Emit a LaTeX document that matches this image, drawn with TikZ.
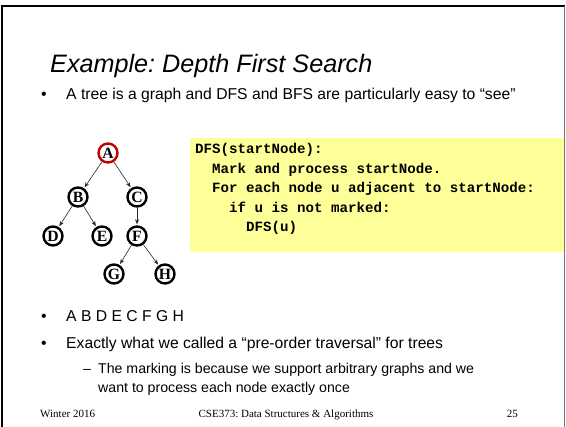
\documentclass[tikz,border=0pt]{standalone}
\usepackage{fontspec}
\setmainfont{Liberation Sans}
\newfontfamily\serifface{Liberation Serif}
\newfontfamily\monoface{Liberation Mono}
\usetikzlibrary{arrows.meta}
\definecolor{notebg}{RGB}{255,255,153}
\definecolor{markred}{RGB}{192,0,0}
\begin{document}
\frenchspacing
\begin{tikzpicture}[x=1pt,y=-1pt,
  vert/.style={circle,draw,line width=2.4pt,minimum size=19pt,inner sep=0pt,
    font=\serifface\bfseries\fontsize{15.7}{16}\selectfont},
  edge/.style={-{Stealth[length=5pt,width=4pt]},line width=0.6pt,draw=black!85,shorten >=1pt},
  titletext/.style={anchor=base west,inner sep=0pt,font=\itshape\fontsize{25.2}{30}\selectfont},
  body/.style={anchor=base west,inner sep=0pt,font=\fontsize{15.7}{18}\selectfont},
  sub/.style={anchor=base west,inner sep=0pt,font=\fontsize{14.15}{17}\selectfont},
  code/.style={anchor=base west,inner sep=0pt,font=\monoface\bfseries\fontsize{14.15}{17}\selectfont},
  foot/.style={inner sep=0pt,font=\serifface\fontsize{11}{13}\selectfont}]

\useasboundingbox (0,0) rectangle (566,427);

% slide frame
\draw[line width=2pt] (2,427) -- (2,6) -- (565,6);
\draw[line width=1pt,black!55] (564.5,6) -- (564.5,427);

% title and first bullet
\node[titletext] (title) at (50,73) {Example: Depth First Search};
\node[body] (dot1) at (41,100) {\textbullet};
\node[body] (b1) at (66,100) {A tree is a graph and DFS and BFS are particularly easy to “see”};

% pseudocode box
\fill[notebg] (190,138) rectangle (564,252);
\node[code] (c1) at (195,154) {DFS(startNode):};
\node[code] (c2) at (212,173.5) {Mark and process startNode.};
\node[code] (c3) at (212,193) {For each node u adjacent to startNode:};
\node[code] (c4) at (229,212.5) {if u is not marked:};
\node[code] (c5) at (246,232) {DFS(u)};

% tree
\node[vert,draw=markred] (A) at (108,153) {A};
\node[vert] (B) at (78,197) {B};
\node[vert] (C) at (137,197) {C};
\node[vert] (D) at (53,236) {D};
\node[vert] (E) at (102,236) {E};
\node[vert] (F) at (137,236) {F};
\node[vert] (G) at (114,274) {G};
\node[vert] (H) at (165,274) {H};
\draw[edge] (A) -- (B);
\draw[edge] (A) -- (C);
\draw[edge] (B) -- (D);
\draw[edge] (B) -- (E);
\draw[edge] (C) -- (F);
\draw[edge] (F) -- (G);
\draw[edge] (F) -- (H);

% lower bullets
\node[body] (dot2) at (41,322) {\textbullet};
\node[body] (b2) at (66,322) {A B D E C F G H};
\node[body] (dot3) at (41,349) {\textbullet};
\node[body] (b3) at (66,349) {Exactly what we called a “pre-order traversal” for trees};
\node[sub] (dash1) at (83,374) {–};
\node[sub] (s1) at (98,374) {The marking is because we support arbitrary graphs and we};
\node[sub] (s2) at (98,393) {want to process each node exactly once};

% footer
\node[foot,anchor=base west] (f1) at (40,418) {Winter 2016};
\node[foot,anchor=base] (f2) at (286,418) {CSE373: Data Structures \& Algorithms};
\node[foot,anchor=base east] (f3) at (518,418) {25};
\end{tikzpicture}
\end{document}
